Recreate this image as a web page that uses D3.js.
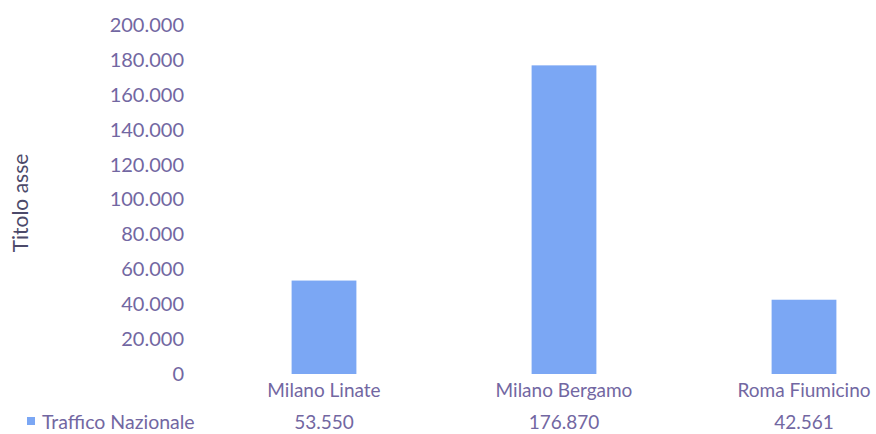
<!DOCTYPE html>
<html>
<head>
<meta charset="utf-8">
<script src="https://cdn.jsdelivr.net/npm/d3@7"></script>
<style>
  body { margin: 0; background: #fff; }
  text { font-family: Lato, "Open Sans", sans-serif; }
</style>
</head>
<body>
<div id="chart"></div>
<script>
// data
var categories = ["Milano Linate", "Milano Bergamo", "Roma Fiumicino"];
var values     = [53550, 176870, 42561];
var seriesName = "Traffico Nazionale";
var yTicks     = [0, 20000, 40000, 60000, 80000, 100000, 120000, 140000, 160000, 180000, 200000];

var width = 876, height = 434;
var barColor = "#7ba7f4",
    textColor = "#7267a2";

var svg = d3.select("#chart").append("svg")
    .attr("width", width)
    .attr("height", height);

var fmt = d3.formatLocale({decimal: ",", thousands: ".", grouping: [3], currency: ["", "€"]}).format(",d");

var x = d3.scaleBand()
    .domain(categories)
    .range([204, 924])
    .paddingInner(0.73)
    .paddingOuter(0.365);

var y = d3.scaleLinear()
    .domain([0, 200000])
    .range([374, 25]);

// y axis labels (no line)
var yAxis = svg.append("g")
    .attr("transform", "translate(184,0)")
    .call(d3.axisLeft(y).tickValues(yTicks).tickFormat(fmt).tickSize(0).tickPadding(0));
yAxis.select(".domain").remove();
yAxis.selectAll("text")
    .style("font-family", "Lato, 'Open Sans', sans-serif")
    .style("font-size", "20px")
    .style("fill", textColor);

// bars
svg.selectAll(".bar")
    .data(values)
    .enter().append("rect")
    .attr("class", "bar")
    .attr("x", function(d, i){ return x(categories[i]); })
    .attr("width", x.bandwidth())
    .attr("y", function(d){ return y(d); })
    .attr("height", function(d){ return y(0) - y(d); })
    .style("fill", barColor);

// category labels
svg.selectAll(".cat")
    .data(categories)
    .enter().append("text")
    .attr("class", "cat")
    .attr("x", function(d){ return x(d) + x.bandwidth() / 2; })
    .attr("y", 397)
    .attr("text-anchor", "middle")
    .style("font-size", "19px")
    .style("fill", textColor)
    .text(function(d){ return d; });

// data table row
svg.selectAll(".val")
    .data(values)
    .enter().append("text")
    .attr("class", "val")
    .attr("x", function(d, i){ return x(categories[i]) + x.bandwidth() / 2; })
    .attr("y", 429)
    .attr("text-anchor", "middle")
    .style("font-size", "19px")
    .style("fill", textColor)
    .text(function(d){ return fmt(d); });

// legend key
svg.append("rect")
    .attr("x", 27)
    .attr("y", 417)
    .attr("width", 8)
    .attr("height", 8)
    .style("fill", barColor);
svg.append("text")
    .attr("x", 42)
    .attr("y", 429)
    .style("font-size", "19.5px")
    .style("fill", textColor)
    .text(seriesName);

// axis title
svg.append("text")
    .attr("transform", "translate(28,203) rotate(-90)")
    .attr("text-anchor", "middle")
    .style("font-size", "21px")
    .style("fill", "#4c4a6a")
    .text("Titolo asse");
</script>
</body>
</html>
